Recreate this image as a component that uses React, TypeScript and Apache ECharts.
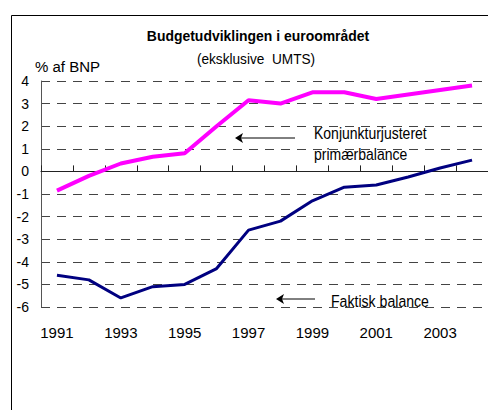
import React, { useEffect, useRef } from "react";
import * as echarts from "echarts";

const years = ["1991","1992","1993","1994","1995","1996","1997","1998","1999","2000","2001","2002","2003","2004"];
const primaerbalance = [-0.85, -0.2, 0.35, 0.65, 0.8, 2.0, 3.15, 3.0, 3.5, 3.5, 3.2, 3.4, 3.6, 3.8];
const faktiskBalance = [-4.6, -4.8, -5.6, -5.1, -5.0, -4.3, -2.6, -2.2, -1.3, -0.7, -0.6, -0.25, 0.15, 0.5];

const FONT = "'Liberation Sans', Arial, sans-serif";

export default function App() {
  const ref = useRef<HTMLDivElement>(null);
  useEffect(() => {
    if (!ref.current) return;
    const chart = echarts.init(ref.current, null, { renderer: "svg" });
    chart.setOption({
      animation: false,
      backgroundColor: "#fff",
      grid: { left: 41, top: 81, right: -1, bottom: 103, containLabel: false },
      xAxis: [
        {
          type: "category",
          data: years,
          boundaryGap: true,
          position: "bottom",
          axisLine: { show: false, onZero: false },
          axisTick: { show: false },
          axisLabel: { interval: 1, margin: 18, fontSize: 15, color: "#000", fontFamily: FONT },
          splitLine: { show: false },
        },
        {
          type: "category",
          data: years,
          boundaryGap: true,
          position: "bottom",
          axisLine: { show: true, onZero: true, lineStyle: { color: "#222", width: 1 } },
          axisTick: { show: true, inside: true, length: 6, interval: 0, lineStyle: { color: "#222" } },
          axisLabel: { show: false },
          splitLine: { show: false },
        },
      ],
      yAxis: {
        type: "value",
        min: -6,
        max: 4,
        interval: 1,
        axisLine: { show: true, lineStyle: { color: "#555", width: 1 } },
        axisTick: { show: false },
        axisLabel: { margin: 12, fontSize: 14, color: "#000", fontFamily: FONT },
        splitLine: { show: true, lineStyle: { type: [9, 7], color: "#444", width: 1 } },
      },
      series: [
        {
          type: "line",
          data: primaerbalance,
          xAxisIndex: 0,
          symbol: "none",
          lineStyle: { color: "#FF00FF", width: 4 },
          z: 3,
        },
        {
          type: "line",
          data: faktiskBalance,
          xAxisIndex: 0,
          symbol: "none",
          lineStyle: { color: "#000080", width: 3 },
          z: 3,
        },
      ],
      graphic: [
        {
          type: "rect",
          shape: { x: 11.5, y: 15.5, width: 600, height: 600 },
          style: { fill: "none", stroke: "#000", lineWidth: 1 },
          silent: true,
          z: 0,
        },
        {
          type: "text",
          x: 258,
          y: 36,
          scaleX: 0.9,
          style: { text: "Budgetudviklingen i euroområdet", fontFamily: FONT, fontSize: 15.5, fontWeight: "bold", fill: "#000", textAlign: "center", textVerticalAlign: "middle" },
        },
        {
          type: "text",
          x: 256,
          y: 58.5,
          scaleX: 0.91,
          style: { text: "(eksklusive  UMTS)", fontFamily: FONT, fontSize: 15, fill: "#000", textAlign: "center", textVerticalAlign: "middle" },
        },
        {
          type: "text",
          x: 35,
          y: 66,
          scaleX: 0.97,
          style: { text: "% af BNP", fontFamily: FONT, fontSize: 15.5, fill: "#000", textAlign: "left", textVerticalAlign: "middle" },
        },
        {
          type: "text",
          x: 314,
          y: 133,
          scaleX: 0.875,
          style: { text: "Konjunkturjusteret", fontFamily: FONT, fontSize: 16, fill: "#000", textAlign: "left", textVerticalAlign: "middle" },
        },
        {
          type: "text",
          x: 314,
          y: 154,
          scaleX: 0.875,
          style: { text: "primærbalance", fontFamily: FONT, fontSize: 16, fill: "#000", textAlign: "left", textVerticalAlign: "middle" },
        },
        {
          type: "text",
          x: 331,
          y: 301,
          scaleX: 0.83,
          style: { text: "Faktisk balance", fontFamily: FONT, fontSize: 17, fill: "#000", textAlign: "left", textVerticalAlign: "middle" },
        },
        {
          type: "line",
          shape: { x1: 240, y1: 138, x2: 295, y2: 138 },
          style: { stroke: "#000", lineWidth: 1 },
        },
        {
          type: "polygon",
          shape: { points: [[235, 138], [243, 133], [241, 138], [243, 143]] },
          style: { fill: "#000" },
        },
        {
          type: "line",
          shape: { x1: 281, y1: 299, x2: 315, y2: 299 },
          style: { stroke: "#000", lineWidth: 1 },
        },
        {
          type: "polygon",
          shape: { points: [[276, 299], [284, 294], [282, 299], [284, 304]] },
          style: { fill: "#000" },
        },
      ],
    });
    return () => chart.dispose();
  }, []);
  return (
    <div
      ref={ref}
      style={{ position: "fixed", left: 0, top: 0, width: 488, height: 410 }}
    />
  );
}
